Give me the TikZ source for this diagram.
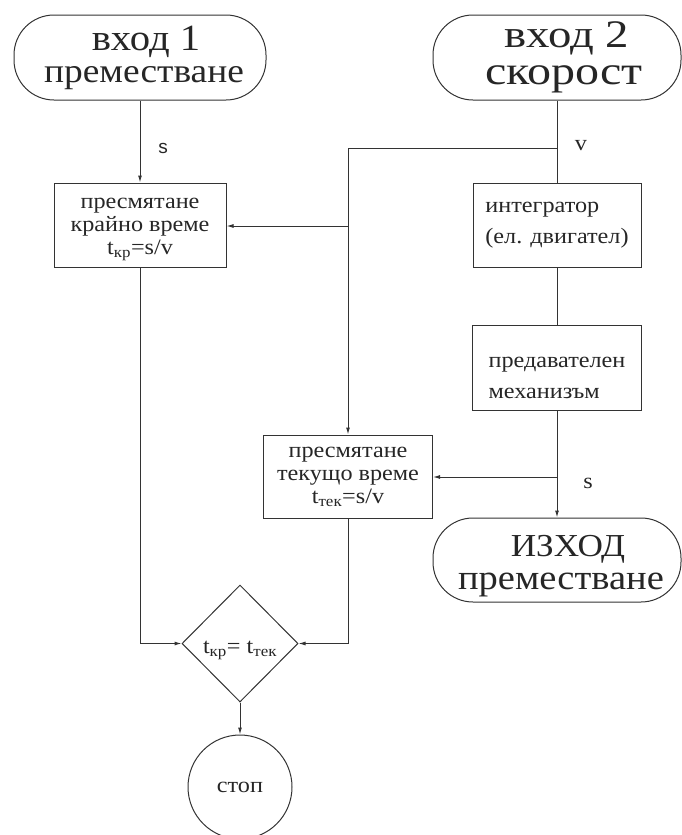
\documentclass[tikz,border=0pt]{standalone}
\usepackage{fontspec}
\setmainfont{Liberation Serif}[FakeStretch=1.1]
\newfontfamily\widefont{Liberation Serif}[FakeStretch=1.2]
\newfontfamily\labelsans{Liberation Sans}
\usetikzlibrary{shapes.geometric,arrows.meta}
\begin{document}
\begin{tikzpicture}[x=1pt,y=-1pt,
  every node/.style={text=black!85},
  term/.style={draw=black!80, line width=1pt, rectangle, rounded corners=40pt,
    minimum height=85pt, align=center, inner sep=0pt},
  proc/.style={draw=black!80, line width=1pt, rectangle, minimum width=170pt,
    minimum height=85pt, inner sep=0pt, font=\fontsize{22}{23}\selectfont},
  conn/.style={draw=black!80, line width=1pt},
  arr/.style={conn, -{Latex[length=7pt,width=4pt]}},
  lbl/.style={inner sep=0pt, font=\fontsize{22}{22}\selectfont}
]
\useasboundingbox (0,0) rectangle (681,835);

% terminators
\node[term, minimum width=252pt, font=\fontsize{34}{32}\selectfont] (in1) at (140,57.5)
  {\hspace*{12pt}{\fontsize{37}{32}\selectfont вход 1}\\\hspace*{8pt}преместване};
\node[term, minimum width=248pt, font=\widefont\fontsize{40}{37}\selectfont] (in2) at (557,57.5)
  {\hspace*{20pt}{\fontsize{39}{37}\selectfont вход 2}\\\hspace*{14pt}скорост};
\node[term, minimum width=248pt, minimum height=84pt, font=\fontsize{35}{33}\selectfont] (out) at (557,560)
  {\rule{0pt}{33pt}\hspace*{22pt}{\fontsize{32}{33}\selectfont ИЗХОД}\\\hspace*{8pt}преместване};

% process boxes
\node[proc, minimum width=172pt, minimum height=84pt, align=center] (box1) at (140,225)
  {\rule{0pt}{20pt}пресмятане\\крайно време\\t\textsubscript{кр}=s/v};
\node[proc, minimum width=168pt, minimum height=84pt, align=left, font=\fontsize{22}{31}\selectfont] (integ) at (557,225)
  {интегратор\\(ел. двигател)};
\node[proc, minimum width=169pt, minimum height=85pt, align=left, font=\fontsize{22}{31}\selectfont] (pred) at (557,367.5)
  {\rule{0pt}{32pt}предавателен\\механизъм};
\node[proc, minimum width=169pt, minimum height=83pt, align=center] (box3) at (348,476.5)
  {пресмятане\\текущо време\\t\textsubscript{тек}=s/v};

% decision and stop
\node[diamond, draw=black!80, line width=1pt, minimum width=116pt, minimum height=117pt,
  inner sep=0pt, font=\fontsize{22}{22}\selectfont] (dia) at (240,643.5)
  {\rule{0pt}{26pt}t\textsubscript{кр}= t\textsubscript{тек}};
\node[circle, draw=black!80, line width=1pt, minimum size=104pt, inner sep=0pt,
  font=\fontsize{22}{22}\selectfont] (stop) at (240,787) {стоп};

% junction points
\coordinate (j1) at (348,148);
\coordinate (j2) at (348,226);
\coordinate (j3) at (557,477);

% connectors
\draw[arr] (in1.south) -- (box1.north);
\draw[conn] (in2.south) -- (integ.north);
\draw[arr] (in2.south |- j1) -- (j1) -- (box3.north);
\draw[arr] (j2) -- (j2 -| box1.east);
\draw[conn] (integ.south) -- (pred.north);
\draw[arr] (pred.south) -- (out.north);
\draw[arr] (j3) -- (j3 -| box3.east);
\draw[arr] (box1.south) |- (dia.west);
\draw[arr] (box3.south) |- (dia.east);
\draw[arr] (dia.south) -- (stop.north);

% signal labels
\node[inner sep=0pt, font=\labelsans\fontsize{19}{19}\selectfont] (ls1) at (163,148) {s};
\node[lbl] (lv) at (581,146) {v};
\node[lbl] (ls2) at (588,483) {s};
\end{tikzpicture}
\end{document}
